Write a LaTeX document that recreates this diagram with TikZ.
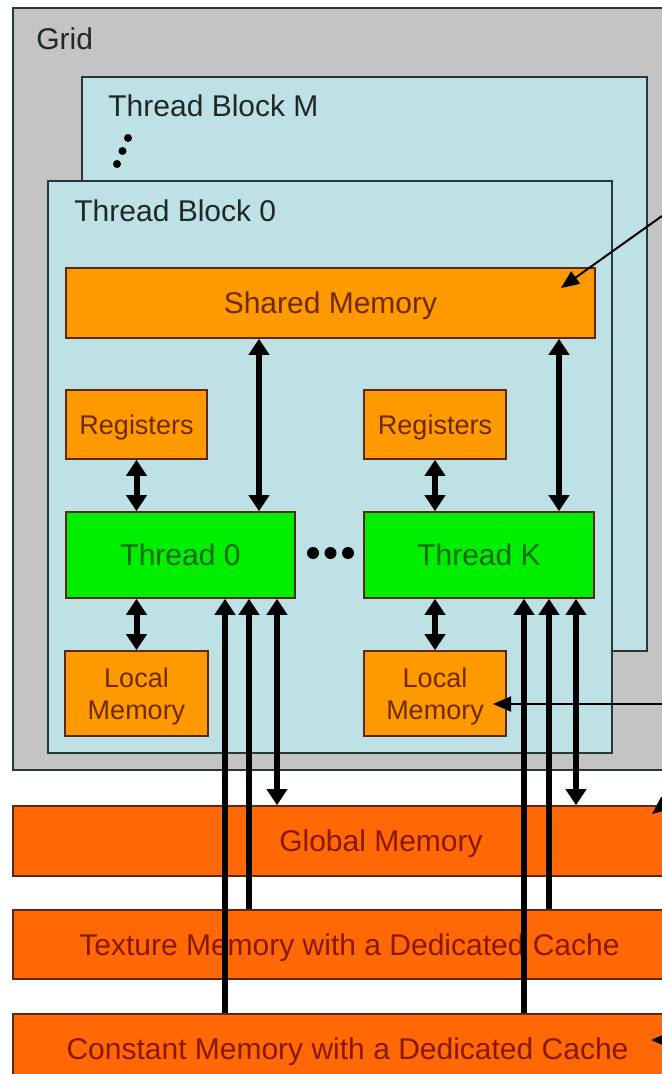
\documentclass[tikz,border=0pt]{standalone}
\usepackage{fontspec}
\setmainfont{Liberation Sans}
\usepackage{xcolor}
\usepackage{tikz}
\usetikzlibrary{arrows.meta}
\usetikzlibrary{positioning}
\definecolor{gridGray}{RGB}{196,196,196}
\definecolor{blockBlue}{RGB}{190,225,229}
\definecolor{blockLine}{RGB}{40,55,55}
\definecolor{memOrange}{RGB}{255,153,0}
\definecolor{barOrange}{RGB}{255,104,4}
\definecolor{threadGreen}{RGB}{0,238,0}
\definecolor{boxLine}{RGB}{90,40,20}
\definecolor{memText}{RGB}{110,42,0}
\definecolor{barText}{RGB}{135,25,0}
\definecolor{threadText}{RGB}{20,105,20}
\definecolor{titleText}{RGB}{30,40,40}
\tikzstyle{frame} = [rectangle, draw=blockLine, line width=1pt, inner sep=0]
\tikzstyle{mem} = [rectangle, draw=boxLine, line width=0.8pt, fill=memOrange, text=memText, inner sep=0, text depth=0pt, align=center, font=\fontsize{13.5}{16}\selectfont]
\tikzstyle{thread} = [rectangle, draw=boxLine, line width=0.8pt, fill=threadGreen, text=threadText, inner sep=0, font=\fontsize{15}{18}\selectfont]
\tikzstyle{bar} = [rectangle, draw=boxLine, line width=0.8pt, fill=barOrange, text=barText, inner sep=0, text depth=0pt, font=\fontsize{15}{18}\selectfont]
\tikzstyle{title} = [anchor=west, inner sep=0, text=titleText, font=\fontsize{15}{18}\selectfont]
\tikzstyle{arrow} = [line width=3pt, >={Triangle[width=10pt,length=8pt]}]
\tikzstyle{pointer} = [line width=1pt, -{Triangle[width=7.5pt,length=9pt]}]
\tikzstyle{solidDot} = [circle, minimum size=6pt, inner sep=0, fill=black]
\tikzstyle{smallDot} = [circle, minimum size=4pt, inner sep=0, fill=black]
\begin{document}
\begin{tikzpicture}[x=0.5pt, y=-0.5pt, node distance = 8.75pt]
                            \useasboundingbox (0,0) rectangle (661,1074);
                            \node (grid) [frame, fill=gridGray, minimum width=343.5pt, minimum height=381pt] at (356.5,389) {};
                            \node (grid_l) [title] at (36,39) {Grid};
                            \node (blk_M) [frame, fill=blockBlue, minimum width=282.5pt, minimum height=287pt] at (364.5,364) {};
                            \node (blk_M_l) [title] at (108,106) {Thread Block M};
                            \node (m_1) [smallDot] at (128,138) {};
                            \node (m_2) [smallDot] at (122.5,151) {};
                            \node (m_3) [smallDot] at (117,164) {};
                            \node (blk_0) [frame, fill=blockBlue, minimum width=282pt, minimum height=286pt] at (330,467) {};
                            \node (blk_0_l) [title] at (74,211) {Thread Block 0};
                            \node (shared) [mem, font=\fontsize{15}{18}\selectfont, minimum width=264.5pt, minimum height=35pt] at (330.5,303) {Shared Memory};
                            \node (reg_0) [mem, minimum width=70.5pt, minimum height=34.5pt] at (136.5,424.5) {Registers};
                            \node (reg_K) [mem, minimum width=71pt, minimum height=34.5pt] at (435,424.5) {Registers};
                            \node (thr_0) [thread, minimum width=114.5pt, minimum height=43pt] at (180.5,555) {Thread 0};
                            \node (thr_K) [thread, minimum width=115pt, minimum height=43pt] at (479,555) {Thread K};
                            \node (d_1) [solidDot] at (313,553) {};
                            \node (d_2) [solidDot, right of = d_1] {};
                            \node (d_3) [solidDot, right of = d_2] {};
                            \node (loc_0) [mem, minimum width=71.5pt, minimum height=42.5pt] at (136.5,693.5) {Local\\Memory};
                            \node (loc_K) [mem, minimum width=71pt, minimum height=42.5pt] at (435,693.5) {Local\\Memory};
                            \node (global) [bar, minimum width=368pt, minimum height=35pt] at (381,841) {Global Memory};
                            \node (texture) [bar, minimum width=336.5pt, minimum height=34.5pt] at (349.5,944.5) {Texture Memory with a Dedicated Cache};
                            \node (constant) [bar, minimum width=334.5pt, minimum height=35pt] at (347.5,1049) {Constant Memory with a Dedicated Cache};
                            \draw [arrow, <->] (reg_0.south) -- (reg_0.south |- thr_0.north);
                            \draw [arrow, <->] (thr_0.south -| loc_0.north) -- (loc_0.north);
                            \draw [arrow, <->] ([xshift=39.25pt]thr_0.north) -- ([xshift=39.25pt]thr_0.north |- shared.south);
                            \draw [arrow, ->] ([xshift=22.25pt]thr_0.south |- constant.north) -- ([xshift=22.25pt]thr_0.south);
                            \draw [arrow, ->] ([xshift=34.25pt]thr_0.south |- texture.north) -- ([xshift=34.25pt]thr_0.south);
                            \draw [arrow, <->] ([xshift=48.25pt]thr_0.south) -- ([xshift=48.25pt]thr_0.south |- global.north);
                            \draw [arrow, <->] (reg_K.south) -- (reg_K.south |- thr_K.north);
                            \draw [arrow, <->] (thr_K.south -| loc_K.north) -- (loc_K.north);
                            \draw [arrow, <->] ([xshift=40pt]thr_K.north) -- ([xshift=40pt]thr_K.north |- shared.south);
                            \draw [arrow, ->] ([xshift=22.5pt]thr_K.south |- constant.north) -- ([xshift=22.5pt]thr_K.south);
                            \draw [arrow, ->] ([xshift=35pt]thr_K.south |- texture.north) -- ([xshift=35pt]thr_K.south);
                            \draw [arrow, <->] ([xshift=48.5pt]thr_K.south) -- ([xshift=48.5pt]thr_K.south |- global.north);
                            \coordinate (p_shared) at (662,216);
                            \coordinate (p_local) at (662,704);
                            \coordinate (p_global) at (672,798);
                            \coordinate (p_const) at (680,1040);
                            \draw [pointer] (p_shared) -- ([xshift=115.25pt, yshift=7.5pt]shared.center);
                            \draw [pointer] (p_local) -- ([xshift=29pt, yshift=-5.25pt]loc_K.center);
                            \draw [pointer] (p_global) -- ([xshift=135.5pt, yshift=13.5pt]global.center);
                            \draw [pointer] (p_const) -- ([xshift=151.75pt, yshift=4.5pt]constant.center);
                        \end{tikzpicture}
\end{document}
